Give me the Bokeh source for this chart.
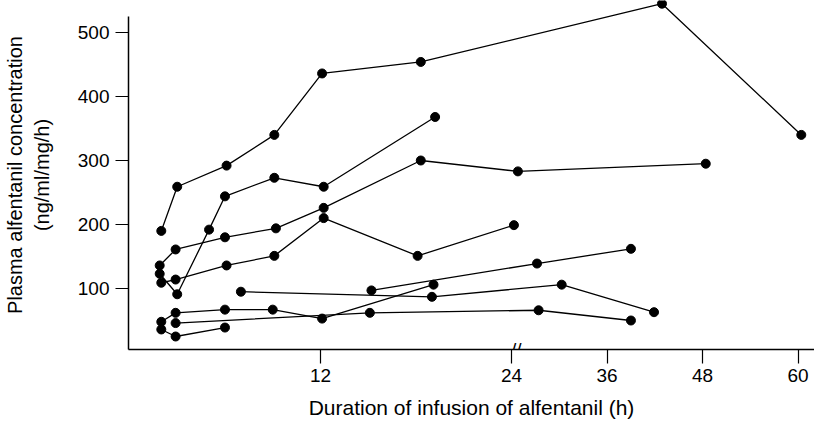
from bokeh.plotting import figure
from bokeh.models import FixedTicker, Label, Range1d
from bokeh.embed import file_html
from bokeh.resources import INLINE

# ---- data (hours, ng/ml/mg/h) ----
BREAK = 24.0
s1_t = [2.0, 3.0, 6.1, 9.1, 12.1, 18.3, 42.9, 60.4]
s1_v = [190, 259, 292, 340, 436, 454, 545, 340]
s2_t = [1.9, 3.0, 5.0, 6.0, 9.1, 12.2, 19.2]
s2_v = [123, 91, 192, 244, 273, 259, 368]
s3_t = [1.9, 2.9, 6.0, 9.2, 12.2, 18.3, 24.8, 48.4]
s3_v = [136, 161, 180, 194, 226, 300, 283, 295]
s4_t = [2.0, 2.9, 6.1, 9.1, 12.2, 18.1, 24.3]
s4_v = [109, 114, 136, 151, 210, 151, 199]
s5_t = [7.0, 19.0, 30.3, 41.9]
s5_v = [95, 87, 106, 63]
s6_t = [15.2, 27.2, 39.0]
s6_v = [97, 139, 162]
s7_t = [2.0, 2.9, 6.0, 9.0, 12.1, 19.1]
s7_v = [48, 62, 67, 67, 53, 106]
s8_t = [2.9, 15.1, 27.4, 39.0]
s8_v = [46, 62, 66, 50]
s9_t = [2.0, 2.9, 6.0]
s9_v = [36, 25, 39]

series = [(s1_t, s1_v), (s2_t, s2_v), (s3_t, s3_v), (s4_t, s4_v), (s5_t, s5_v),
          (s6_t, s6_v), (s7_t, s7_v), (s8_t, s8_v), (s9_t, s9_v)]

x_ticks = [12, 24, 36, 48, 60]
y_ticks = [100, 200, 300, 400, 500]


def xpos(h):
    # broken axis: beyond 24 h the scale is compressed by half
    return h if h <= BREAK else BREAK + (h - BREAK) / 2.0


FONT = "Liberation Sans"

p = figure(width=814, height=423, output_backend="svg", toolbar_location=None,
           x_range=Range1d(-0.06, 43.03), y_range=Range1d(4.7, 550),
           min_border_left=128, min_border_right=0, min_border_top=0,
           min_border_bottom=74)
p.outline_line_color = None
p.xgrid.visible = False
p.ygrid.visible = False
p.background_fill_color = "white"

for t, v in series:
    xs = [xpos(h) for h in t]
    p.line(xs, v, line_color="black", line_width=1.3)
    p.scatter(xs, v, size=9, fill_color="black", line_color="black")

xa = p.xaxis[0]
tick_pos = [xpos(h) for h in x_ticks]
xa.ticker = FixedTicker(ticks=tick_pos)
xa.major_label_overrides = {xpos(h): str(h) for h in x_ticks}
xa.minor_tick_line_color = None
xa.major_tick_in = 0
xa.major_tick_out = 14
xa.major_label_standoff = 5
xa.axis_label = "Duration of infusion of alfentanil (h)"
xa.axis_label_standoff = 11
xa.axis_label_text_font_style = "normal"
xa.axis_label_text_font_size = "21px"

ya = p.yaxis[0]
ya.ticker = FixedTicker(ticks=y_ticks)
ya.bounds = (4.7, 525)
ya.minor_tick_line_color = None
ya.major_tick_in = 0
ya.major_tick_out = 13
ya.major_label_standoff = 6
ya.axis_label = "Plasma alfentanil concentration\n(ng/ml/mg/h)"
ya.axis_label_standoff = 22
ya.axis_label_text_font_style = "normal"
ya.axis_label_text_font_size = "20px"

for ax in (xa, ya):
    ax.axis_line_color = "black"
    ax.axis_line_width = 1.5
    ax.major_tick_line_color = "black"
    ax.major_tick_line_width = 1.2
    ax.major_label_text_font = FONT
    ax.major_label_text_font_size = "19px"
    ax.major_label_text_color = "black"
    ax.axis_label_text_font = FONT
    ax.axis_label_text_color = "black"

# axis break mark
p.add_layout(Label(x=xpos(BREAK) + 0.3, y=4.7, text="//",
                   text_align="center", text_baseline="middle",
                   text_font=FONT, text_font_size="19px", text_color="black"))

open("out.html", "w").write(file_html(p, INLINE))
